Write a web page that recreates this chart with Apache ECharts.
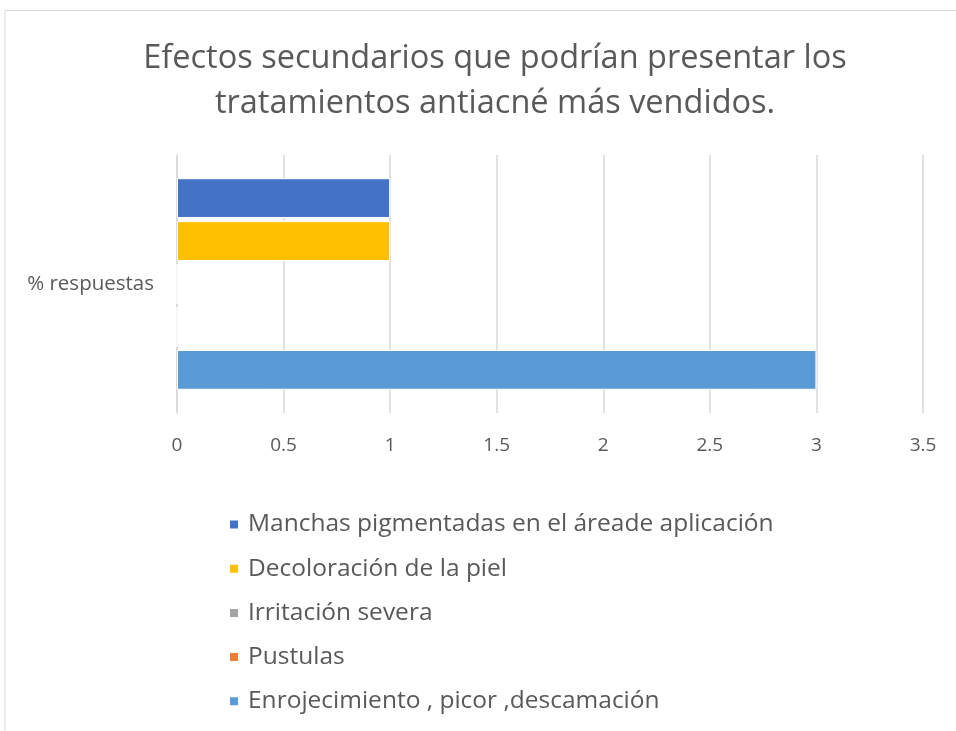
<!DOCTYPE html>
<html>
<head>
<meta charset="utf-8">
<script src="https://cdn.jsdelivr.net/npm/echarts@6/dist/echarts.min.js"></script>
<style>
  html, body { margin: 0; padding: 0; background: #fff; }
  #chart { width: 956px; height: 731px; }
</style>
</head>
<body>
<div id="chart"></div>
<script>
// data
const categories = ["% respuestas"];
const seriesNames = [
  "Manchas pigmentadas en el áreade aplicación",
  "Decoloración de la piel",
  "Irritación severa",
  "Pustulas",
  "Enrojecimiento , picor ,descamación"
];
const manchas = [1];
const decoloracion = [1];
const irritacion = [0];
const pustulas = [0];
const enrojecimiento = [3];
const colors = ["#4472C4", "#FFC000", "#A5A5A5", "#ED7D31", "#5B9BD5"];

const font = "'Open Sans', sans-serif";
const values = [manchas, decoloracion, irritacion, pustulas, enrojecimiento];

let myChart = echarts.init(document.getElementById("chart"));
myChart.setOption({
  animation: false,
  title: {
    text: "Efectos secundarios que podrían presentar los\ntratamientos antiacné más vendidos.",
    left: 490,
    textAlign: "center",
    top: 31,
    textStyle: {
      fontFamily: font,
      fontWeight: "normal",
      fontSize: 32.5,
      lineHeight: 45,
      color: "#595959"
    }
  },
  graphic: [
    {
      type: "polyline",
      shape: { points: [[5, 740], [5, 10.5], [960, 10.5]] },
      style: { stroke: "#d9d9d9", fill: null, lineWidth: 1 }
    }
  ],
  grid: { left: 177, right: 33, top: 155, bottom: 318 },
  legend: {
    orient: "vertical",
    left: 223,
    top: 507,
    itemWidth: 10,
    itemHeight: 10,
    itemGap: 19.2,
    icon: "rect",
    data: seriesNames,
    textStyle: {
      fontFamily: font,
      fontSize: 24.5,
      lineHeight: 25,
      padding: [0, 0, 0, 4],
      color: "#595959"
    }
  },
  xAxis: {
    type: "value",
    min: 0,
    max: 3.5,
    interval: 0.5,
    axisLine: { show: false },
    axisTick: { show: false },
    axisLabel: { margin: 23, fontFamily: font, fontSize: 19, color: "#595959" },
    splitLine: { lineStyle: { color: "#d9d9d9", width: 1.5 } }
  },
  yAxis: {
    type: "category",
    data: categories,
    inverse: true,
    axisLine: { lineStyle: { color: "#d9d9d9", width: 1.5 } },
    axisTick: { length: 6, lineStyle: { color: "#d9d9d9", width: 1.5 } },
    axisLabel: { margin: 23, fontFamily: font, fontSize: 20.5, color: "#595959" }
  },
  series: seriesNames.map((name, i) => ({
    name: name,
    type: "bar",
    data: values[i],
    barGap: "8%",
    barCategoryGap: "18%",
    itemStyle: { color: colors[i], borderColor: "#fff", borderWidth: 1 }
  }))
});
</script>
</body>
</html>
